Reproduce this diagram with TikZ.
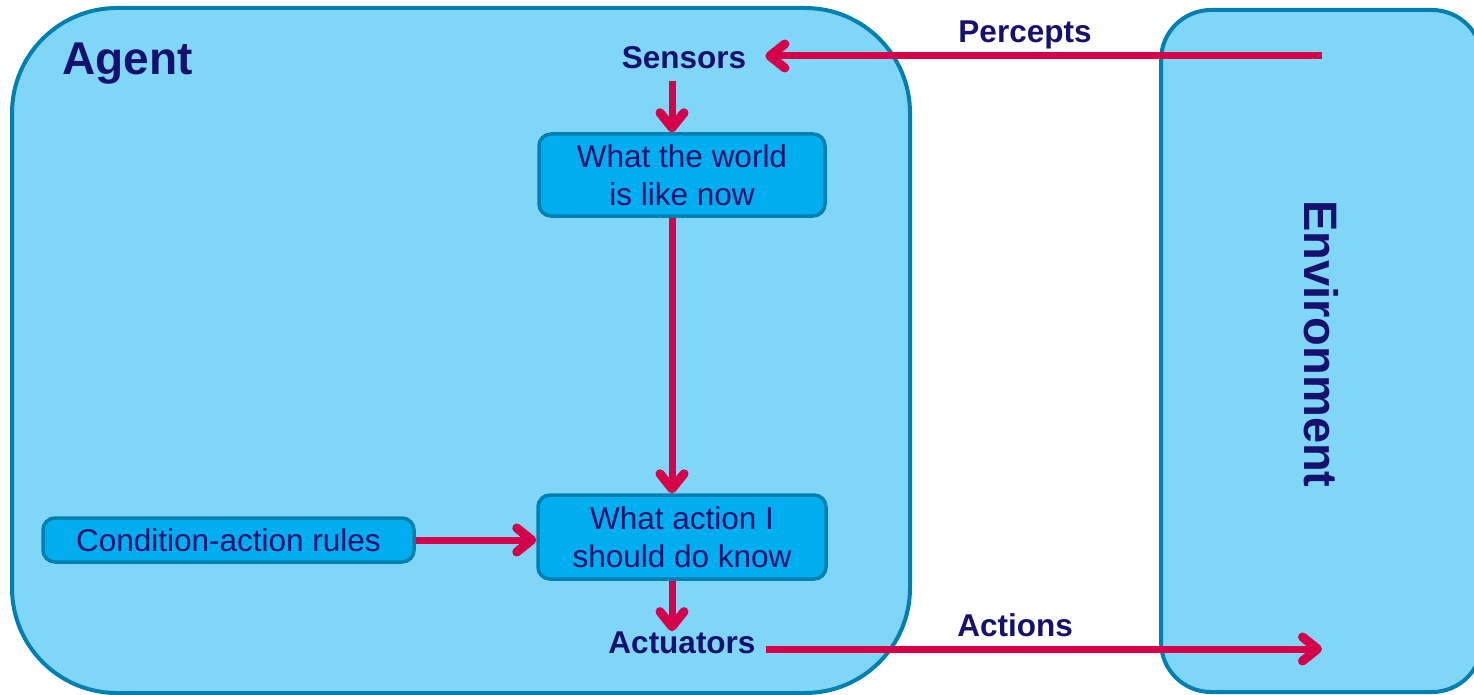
\documentclass[tikz,border=0pt]{standalone}
\usepackage{fontspec}
\setmainfont{Liberation Sans}
\usetikzlibrary{arrows.meta}
\definecolor{agentfill}{RGB}{128,214,247}
\definecolor{frameblue}{RGB}{0,128,176}
\definecolor{boxfill}{RGB}{0,174,239}
\definecolor{navy}{RGB}{22,16,110}
\definecolor{flow}{RGB}{214,0,74}
\tikzset{
  region/.style={draw=frameblue, fill=agentfill, line width=4pt},
  procbox/.style={draw=frameblue, fill=boxfill, line width=3.5pt, rounded corners=12pt,
    text=navy, align=center, inner sep=0pt, font=\fontsize{31.5}{38}\selectfont},
  port/.style={text=navy, inner sep=0pt, font=\fontsize{31.5}{38}\selectfont\bfseries},
  flowarrow/.style={draw=flow, line width=7pt,
    -{Straight Barb[round, length=15pt, width=24pt, line width=9pt]}}
}
\begin{document}
\begin{tikzpicture}[x=1pt, y=-1pt]
  \useasboundingbox (0,0) rectangle (1474,695);

  % the agent and its environment
  \draw[region, rounded corners=105pt] (12,8) rectangle (910,693);
  \draw[region, rounded corners=50pt] (1161,10) rectangle (1482,692);

  \node[port, anchor=base west, font=\fontsize{46}{52}\selectfont\bfseries] (agent) at (62,75) {Agent};
  \node[port, rotate=-90, font=\fontsize{47}{52}\selectfont\bfseries] (env) at (1321,344) {Environment};

  % inputs and outputs of the agent
  \node[port, anchor=base] (sensors) at (684,69) {Sensors};
  \node[port, anchor=base] (act) at (682,653) {Actuators};

  % internal reasoning steps
  \node[procbox, minimum width=286pt, minimum height=82pt] (world) at (682,175)
    {What the world\\is like now};
  \node[procbox, minimum width=288pt, minimum height=84pt] (action) at (682,537)
    {What action I\\should do know};
  \node[procbox, minimum width=371pt, minimum height=44pt] (rules) at (228.5,540)
    {Condition-action rules};

  % labels on the exchanges with the environment
  \node[port, anchor=base] (percepts) at (1025,43) {Percepts};
  \node[port, anchor=base] (actions) at (1015,636) {Actions};

  \coordinate (percsrc) at (1322,56);
  \coordinate (acttgt) at (1322,649);

  % flows
  \draw[flowarrow] (percsrc) -- ([xshift=19pt]sensors.east |- percsrc);
  \draw[flowarrow] ([xshift=-12pt,yshift=-11pt]sensors.south) -- ([xshift=-10pt]world.north);
  \draw[flowarrow] ([xshift=-10pt]world.south) -- ([xshift=-10pt]action.north);
  \draw[flowarrow] (rules.east) -- (action.west |- rules.east);
  \draw[flowarrow] ([xshift=-10pt]action.south) -- ([xshift=-10pt]act.north);
  \draw[flowarrow] ([xshift=10pt]act.east |- acttgt) -- (acttgt);
\end{tikzpicture}
\end{document}
